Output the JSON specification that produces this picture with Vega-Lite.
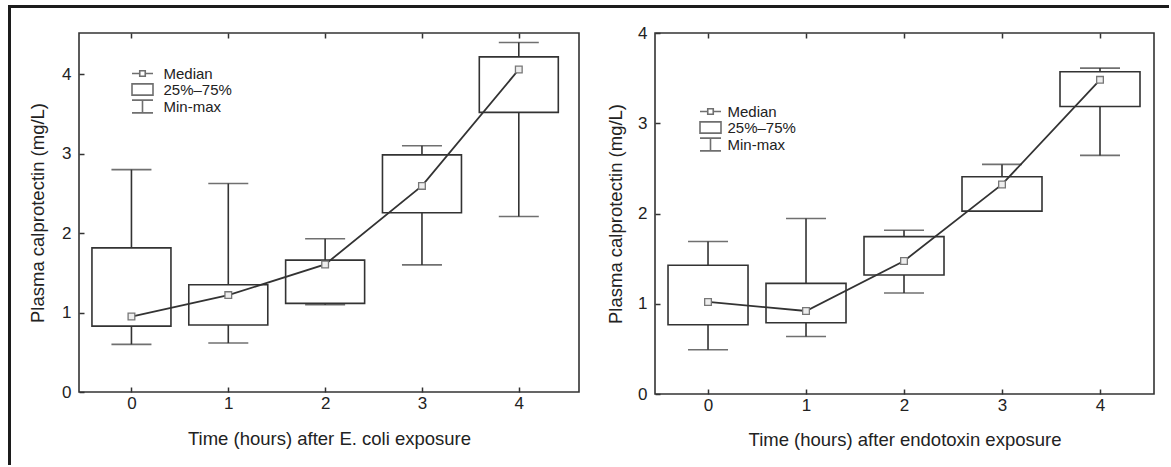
{
  "$schema": "https://vega.github.io/schema/vega-lite/v6.json",
  "background": "white",
  "padding": {"left": 8, "top": 5, "right": 0, "bottom": 0},
  "config": {
    "font": "Liberation Sans",
    "view": {"stroke": "#333", "strokeWidth": 1.6},
    "axis": {"domain": false, "grid": false, "tickColor": "#333", "tickWidth": 1.5, "labelFont": "Liberation Sans", "titleFont": "Liberation Sans", "labelFontSize": 17, "labelColor": "#222", "titleFontSize": 18.5, "titleFontWeight": "normal", "titleColor": "#222"},
    "legend": {"labelFont": "Liberation Sans", "labelFontSize": 15, "labelColor": "#222"}
  },
  "datasets": {
    "ecoli": [
      {"t": 0, "min": 0.60, "q1": 0.83, "median": 0.95, "q3": 1.815, "max": 2.80},
      {"t": 1, "min": 0.616, "q1": 0.843, "median": 1.22, "q3": 1.35, "max": 2.625},
      {"t": 2, "min": 1.10, "q1": 1.116, "median": 1.606, "q3": 1.66, "max": 1.93},
      {"t": 3, "min": 1.60, "q1": 2.256, "median": 2.595, "q3": 2.985, "max": 3.10},
      {"t": 4, "min": 2.21, "q1": 3.52, "median": 4.06, "q3": 4.22, "max": 4.40}
    ],
    "endotoxin": [
      {"t": 0, "min": 0.49, "q1": 0.767, "median": 1.02, "q3": 1.426, "max": 1.69},
      {"t": 1, "min": 0.637, "q1": 0.789, "median": 0.92, "q3": 1.226, "max": 1.944},
      {"t": 2, "min": 1.119, "q1": 1.319, "median": 1.474, "q3": 1.744, "max": 1.815},
      {"t": 3, "min": 2.026, "q1": 2.026, "median": 2.322, "q3": 2.407, "max": 2.544},
      {"t": 4, "min": 2.644, "q1": 3.185, "median": 3.481, "q3": 3.57, "max": 3.611}
    ],
    "legenditems": [
      {"item": "Median"},
      {"item": "25%–75%"},
      {"item": "Min-max"}
    ]
  },
  "spacing": 0,
  "hconcat": [
    {
      "width": 1, "height": 458,
      "view": {"stroke": "#1c1c1c", "strokeWidth": 2},
      "data": {"values": []},
      "mark": {"type": "rule"},
      "encoding": {}
    },
    {
      "spacing": 15,
      "vconcat": [
        {
          "width": 1156, "height": 1,
          "view": {"stroke": "#1c1c1c", "strokeWidth": 2},
          "data": {"values": []},
          "mark": {"type": "rule"},
          "encoding": {}
        },
        {
          "spacing": 12,
          "resolve": {"scale": {"x": "independent", "y": "independent", "shape": "independent"}, "legend": {"shape": "independent"}},
          "hconcat": [
            {
              "width": 3, "height": 1,
              "view": {"stroke": null},
              "data": {"values": []},
              "mark": {"type": "rule"},
              "encoding": {}
            },
            {
              "width": 500, "height": 359,
              "data": {"name": "ecoli"},
              "resolve": {"axis": {"x": "independent"}},
              "encoding": {
                "x": {"field": "t", "type": "quantitative", "scale": {"domain": [-0.49, 4.57], "nice": false, "zero": false}, "axis": null}
              },
              "layer": [
                {
                  "mark": {"type": "rule", "color": "#333", "strokeWidth": 1.6},
                  "encoding": {
                    "x": {"field": "t", "type": "quantitative", "scale": {"domain": [-0.49, 4.57], "nice": false, "zero": false},
                      "axis": {"orient": "bottom", "values": [0, 1, 2, 3, 4], "format": "d", "tickSize": -5, "labelPadding": 8, "title": "Time (hours) after E. coli exposure", "titlePadding": 18}},
                    "y": {"field": "min", "type": "quantitative", "scale": {"domain": [0, 4.52], "nice": false, "zero": false},
                      "axis": {"values": [0, 0.5, 1, 1.5, 2, 2.5, 3, 3.5, 4, 4.5], "format": "d", "labelExpr": "datum.value % 1 === 0 ? datum.label : ''", "tickSize": -5, "labelPadding": 13, "title": "Plasma calprotectin (mg/L)", "titlePadding": 14}},
                    "y2": {"field": "max"}
                  }
                },
                {
                  "mark": {"type": "rule", "opacity": 0},
                  "encoding": {
                    "x": {"field": "t", "type": "quantitative",
                      "axis": {"orient": "top", "values": [0, 1, 2, 3, 4], "labels": false, "tickSize": -5, "title": null}}
                  }
                },
                {
                  "mark": {"type": "tick", "orient": "horizontal", "size": 40, "thickness": 1.6, "color": "#333"},
                  "encoding": {"y": {"field": "max", "type": "quantitative"}}
                },
                {
                  "mark": {"type": "tick", "orient": "horizontal", "size": 40, "thickness": 1.6, "color": "#333"},
                  "encoding": {"y": {"field": "min", "type": "quantitative"}}
                },
                {
                  "mark": {"type": "bar", "size": 79, "fill": "white", "stroke": "#333", "strokeWidth": 1.6},
                  "encoding": {"y": {"field": "q1", "type": "quantitative"}, "y2": {"field": "q3"}}
                },
                {
                  "mark": {"type": "line", "color": "#333", "strokeWidth": 1.8},
                  "encoding": {"y": {"field": "median", "type": "quantitative"}}
                },
                {
                  "mark": {"type": "point", "shape": "square", "size": 45, "filled": true, "fill": "#eeeeee", "stroke": "#777", "strokeWidth": 1.3, "opacity": 1},
                  "encoding": {"y": {"field": "median", "type": "quantitative"}}
                },
                {
                  "data": {"name": "legenditems"},
                  "mark": {"type": "point", "clip": true, "filled": false, "size": 100, "color": "#333", "strokeWidth": 1.6},
                  "encoding": {
                    "x": {"datum": 2, "type": "quantitative", "axis": null},
                    "y": {"datum": -10, "type": "quantitative"},
                    "shape": {"field": "item", "type": "nominal",
                      "scale": {"domain": ["Median", "25%–75%", "Min-max"], "range": ["M-2.1,0L-0.55,0M-0.55,-0.55L0.55,-0.55L0.55,0.55L-0.55,0.55ZM0.55,0L2.1,0", "M-2.1,-1.12L2.1,-1.12L2.1,1.12L-2.1,1.12Z", "M-2.1,-1.28L2.1,-1.28M0,-1.28L0,1.28M-2.1,1.28L2.1,1.28"]},
                      "legend": {"title": null, "orient": "none", "legendX": 56, "legendY": 33, "symbolSize": 100, "symbolStrokeWidth": 1.6, "symbolStrokeColor": "#333", "symbolFillColor": "white", "labelOffset": 13.5, "rowPadding": -4.5, "labelFontSize": 15}}
                  }
                }
              ]
            },
            {
              "width": 1, "height": 1,
              "view": {"stroke": null},
              "data": {"values": []},
              "mark": {"type": "rule"},
              "encoding": {}
            },
            {
              "width": 499, "height": 361,
              "data": {"name": "endotoxin"},
              "resolve": {"axis": {"x": "independent"}},
              "encoding": {
                "x": {"field": "t", "type": "quantitative", "scale": {"domain": [-0.49, 4.5], "nice": false, "zero": false}, "axis": null}
              },
              "layer": [
                {
                  "mark": {"type": "rule", "color": "#333", "strokeWidth": 1.6},
                  "encoding": {
                    "x": {"field": "t", "type": "quantitative", "scale": {"domain": [-0.49, 4.5], "nice": false, "zero": false},
                      "axis": {"orient": "bottom", "values": [0, 1, 2, 3, 4], "format": "d", "tickSize": -5, "labelPadding": 8, "title": "Time (hours) after endotoxin exposure", "titlePadding": 17}},
                    "y": {"field": "min", "type": "quantitative", "scale": {"domain": [0, 4], "nice": false, "zero": false},
                      "axis": {"values": [0, 0.5, 1, 1.5, 2, 2.5, 3, 3.5, 4], "format": "d", "labelExpr": "datum.value % 1 === 0 ? datum.label : ''", "tickSize": -5, "labelPadding": 13, "title": "Plasma calprotectin (mg/L)", "titlePadding": 12}},
                    "y2": {"field": "max"}
                  }
                },
                {
                  "mark": {"type": "rule", "opacity": 0},
                  "encoding": {
                    "x": {"field": "t", "type": "quantitative",
                      "axis": {"orient": "top", "values": [0, 1, 2, 3, 4], "labels": false, "tickSize": -5, "title": null}}
                  }
                },
                {
                  "mark": {"type": "tick", "orient": "horizontal", "size": 40, "thickness": 1.6, "color": "#333"},
                  "encoding": {"y": {"field": "max", "type": "quantitative"}}
                },
                {
                  "mark": {"type": "tick", "orient": "horizontal", "size": 40, "thickness": 1.6, "color": "#333"},
                  "encoding": {"y": {"field": "min", "type": "quantitative"}}
                },
                {
                  "mark": {"type": "bar", "size": 80, "fill": "white", "stroke": "#333", "strokeWidth": 1.6},
                  "encoding": {"y": {"field": "q1", "type": "quantitative"}, "y2": {"field": "q3"}}
                },
                {
                  "mark": {"type": "line", "color": "#333", "strokeWidth": 1.8},
                  "encoding": {"y": {"field": "median", "type": "quantitative"}}
                },
                {
                  "mark": {"type": "point", "shape": "square", "size": 45, "filled": true, "fill": "#eeeeee", "stroke": "#777", "strokeWidth": 1.3, "opacity": 1},
                  "encoding": {"y": {"field": "median", "type": "quantitative"}}
                },
                {
                  "data": {"name": "legenditems"},
                  "mark": {"type": "point", "clip": true, "filled": false, "size": 100, "color": "#333", "strokeWidth": 1.6},
                  "encoding": {
                    "x": {"datum": 2, "type": "quantitative", "axis": null},
                    "y": {"datum": -10, "type": "quantitative"},
                    "shape": {"field": "item", "type": "nominal",
                      "scale": {"domain": ["Median", "25%–75%", "Min-max"], "range": ["M-2.1,0L-0.55,0M-0.55,-0.55L0.55,-0.55L0.55,0.55L-0.55,0.55ZM0.55,0L2.1,0", "M-2.1,-1.12L2.1,-1.12L2.1,1.12L-2.1,1.12Z", "M-2.1,-1.28L2.1,-1.28M0,-1.28L0,1.28M-2.1,1.28L2.1,1.28"]},
                      "legend": {"title": null, "orient": "none", "legendX": 48, "legendY": 71, "symbolSize": 100, "symbolStrokeWidth": 1.6, "symbolStrokeColor": "#333", "symbolFillColor": "white", "labelOffset": 9.5, "rowPadding": -4.5, "labelFontSize": 15}}
                  }
                }
              ]
            }
          ]
        }
      ]
    }
  ]
}
